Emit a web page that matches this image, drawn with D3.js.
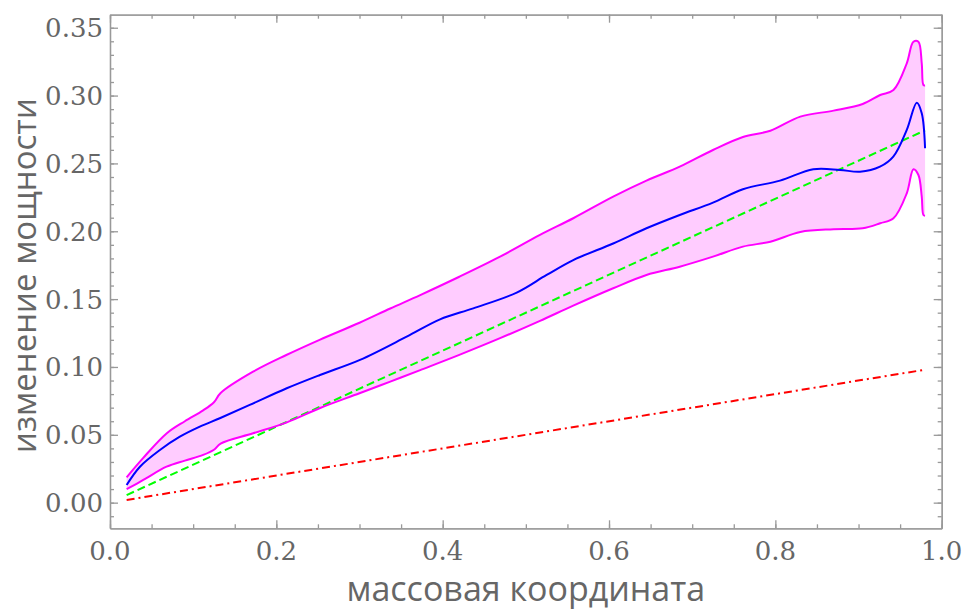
<!DOCTYPE html>
<html>
<head>
<meta charset="utf-8">
<script src="https://cdn.jsdelivr.net/npm/d3@7"></script>
<style>
  body { margin: 0; background: #fff; }
  .tick_label { font-family: "DejaVu Serif", serif; font-size: 26px; fill: #666; }
  .axis_title { font-family: "Open Sans", sans-serif; font-size: 34px; fill: #666; }
</style>
</head>
<body>
<div id="chart"></div>
<script>
// band edges share one x grid
const band_x = [0.02, 0.04, 0.068, 0.09, 0.112, 0.125, 0.133, 0.172, 0.212, 0.252, 0.30, 0.337, 0.373, 0.42, 0.469, 0.517, 0.557, 0.605, 0.645, 0.685, 0.725, 0.761, 0.794, 0.83, 0.87, 0.905, 0.926, 0.942, 0.958, 0.966, 0.972, 0.976, 0.978, 0.98]
const band_upper = [0.0187, 0.033, 0.051, 0.060, 0.068, 0.074, 0.0808, 0.0965, 0.1088, 0.120, 0.1326, 0.1431, 0.153, 0.1665, 0.1813, 0.1973, 0.2096, 0.2255, 0.2373, 0.2476, 0.2599, 0.2695, 0.2741, 0.2845, 0.2889, 0.2938, 0.3004, 0.3041, 0.3238, 0.3397, 0.3397, 0.3238, 0.3078, 0.3075]
const band_lower = [0.0099, 0.0167, 0.0265, 0.031, 0.0352, 0.039, 0.0435, 0.0511, 0.059, 0.0696, 0.0806, 0.0892, 0.0977, 0.1089, 0.1212, 0.134, 0.1452, 0.158, 0.1678, 0.1739, 0.1813, 0.1887, 0.1923, 0.1995, 0.2015, 0.2022, 0.2059, 0.2096, 0.228, 0.2457, 0.2415, 0.2255, 0.212, 0.2115]

// mean curve (blue)
const mean_x = [0.02, 0.036, 0.06, 0.084, 0.108, 0.132, 0.168, 0.2125, 0.2525, 0.3006, 0.3567, 0.3968, 0.4368, 0.489, 0.525, 0.557, 0.605, 0.645, 0.685, 0.725, 0.761, 0.8056, 0.8456, 0.8777, 0.9018, 0.9258, 0.9418, 0.958, 0.970, 0.976, 0.98]
const mean_y = [0.013, 0.0265, 0.0388, 0.0486, 0.056, 0.0622, 0.072, 0.0843, 0.0941, 0.1052, 0.1223, 0.1351, 0.1432, 0.1548, 0.1678, 0.1788, 0.191, 0.2022, 0.212, 0.2211, 0.231, 0.2373, 0.2457, 0.2452, 0.2439, 0.2476, 0.255, 0.2747, 0.2948, 0.287, 0.2612]

// straight reference lines (end points)
const green_x = [0.02, 0.98]
const green_y = [0.0056, 0.2744]
const red_x = [0.02, 0.98]
const red_y = [0.002, 0.098]

const x_ticks = [0.0, 0.2, 0.4, 0.6, 0.8, 1.0]
const y_ticks = [0.00, 0.05, 0.10, 0.15, 0.20, 0.25, 0.30, 0.35]

const width = 964, height = 610
const plot = {left: 110, right: 941.7, top: 14.7, bottom: 528.3}

const svg = d3.select("#chart").append("svg")
  .attr("width", width)
  .attr("height", height)

const x = d3.scaleLinear().domain([0, 1]).range([plot.left, plot.right])
const y = d3.scaleLinear().domain([-0.0189, 0.3596]).range([plot.bottom, plot.top])

const zip = (xs, ys) => xs.map((v, i) => [v, ys[i]])

// band fill
const area = d3.area()
  .x(d => x(d[0]))
  .y0(d => y(d[2]))
  .y1(d => y(d[1]))
  .curve(d3.curveCatmullRom.alpha(0.5))

svg.append("path")
  .datum(band_x.map((v, i) => [v, band_upper[i], band_lower[i]]))
  .attr("d", area)
  .attr("fill", "#ffccff")
  .attr("stroke", "none")

const line = d3.line()
  .x(d => x(d[0]))
  .y(d => y(d[1]))
  .curve(d3.curveCatmullRom.alpha(0.5))

svg.append("path")
  .datum(zip(red_x, red_y))
  .attr("d", line)
  .attr("fill", "none")
  .attr("stroke", "#ff0000")
  .attr("stroke-width", 2)
  .attr("stroke-dasharray", "8,4,2,4")

svg.append("path")
  .datum(zip(green_x, green_y))
  .attr("d", line)
  .attr("fill", "none")
  .attr("stroke", "#00ff00")
  .attr("stroke-width", 2)
  .attr("stroke-dasharray", "8,4")

svg.append("path")
  .datum(zip(band_x, band_upper))
  .attr("d", line)
  .attr("fill", "none")
  .attr("stroke", "#ff00ff")
  .attr("stroke-width", 2)

svg.append("path")
  .datum(zip(band_x, band_lower))
  .attr("d", line)
  .attr("fill", "none")
  .attr("stroke", "#ff00ff")
  .attr("stroke-width", 2)

svg.append("path")
  .datum(zip(mean_x, mean_y))
  .attr("d", line)
  .attr("fill", "none")
  .attr("stroke", "#0000ff")
  .attr("stroke-width", 2)

// frame axes, ticks pointing inward
const frame_color = "#999"
const x_minor = d3.range(0, 1.0001, 0.05)
const y_minor = d3.range(-0.01, 0.3501, 0.01).map(v => Math.round(v * 100) / 100)

const addAxis = (axis, transform) => {
  const g = svg.append("g")
    .attr("transform", transform)
    .call(axis)
  g.selectAll("path, line").attr("stroke", frame_color).attr("stroke-width", 1.3)
  g.selectAll("text").remove()
  return g
}

addAxis(d3.axisBottom(x).tickValues(x_minor).tickSize(-4).tickSizeOuter(0), "translate(0," + plot.bottom + ")")
addAxis(d3.axisBottom(x).tickValues(x_ticks).tickSize(-8).tickSizeOuter(0), "translate(0," + plot.bottom + ")")
addAxis(d3.axisTop(x).tickValues(x_minor).tickSize(-4).tickSizeOuter(0), "translate(0," + plot.top + ")")
addAxis(d3.axisTop(x).tickValues(x_ticks).tickSize(-8).tickSizeOuter(0), "translate(0," + plot.top + ")")
addAxis(d3.axisLeft(y).tickValues(y_minor).tickSize(-4).tickSizeOuter(0), "translate(" + plot.left + ",0)")
addAxis(d3.axisLeft(y).tickValues(y_ticks).tickSize(-8).tickSizeOuter(0), "translate(" + plot.left + ",0)")
addAxis(d3.axisRight(y).tickValues(y_minor).tickSize(-4).tickSizeOuter(0), "translate(" + plot.right + ",0)")
addAxis(d3.axisRight(y).tickValues(y_ticks).tickSize(-8).tickSizeOuter(0), "translate(" + plot.right + ",0)")

// tick labels
svg.selectAll(".x_label")
  .data(x_ticks)
  .enter()
  .append("text")
  .attr("class", "tick_label")
  .attr("x", d => x(d))
  .attr("y", 560)
  .attr("text-anchor", "middle")
  .text(d3.format(".1f"))

svg.selectAll(".y_label")
  .data(y_ticks)
  .enter()
  .append("text")
  .attr("class", "tick_label")
  .attr("x", plot.left - 7)
  .attr("y", d => y(d) + 9.5)
  .attr("text-anchor", "end")
  .text(d3.format(".2f"))

svg.append("text")
  .attr("class", "axis_title")
  .attr("x", (plot.left + plot.right) / 2)
  .attr("y", 601)
  .attr("text-anchor", "middle")
  .text("массовая координата")

svg.append("text")
  .attr("class", "axis_title")
  .style("font-size", "33px")
  .attr("transform", "translate(36," + ((plot.top + plot.bottom) / 2 + 4) + ") rotate(-90)")
  .attr("text-anchor", "middle")
  .text("изменение мощности")
</script>
</body>
</html>
